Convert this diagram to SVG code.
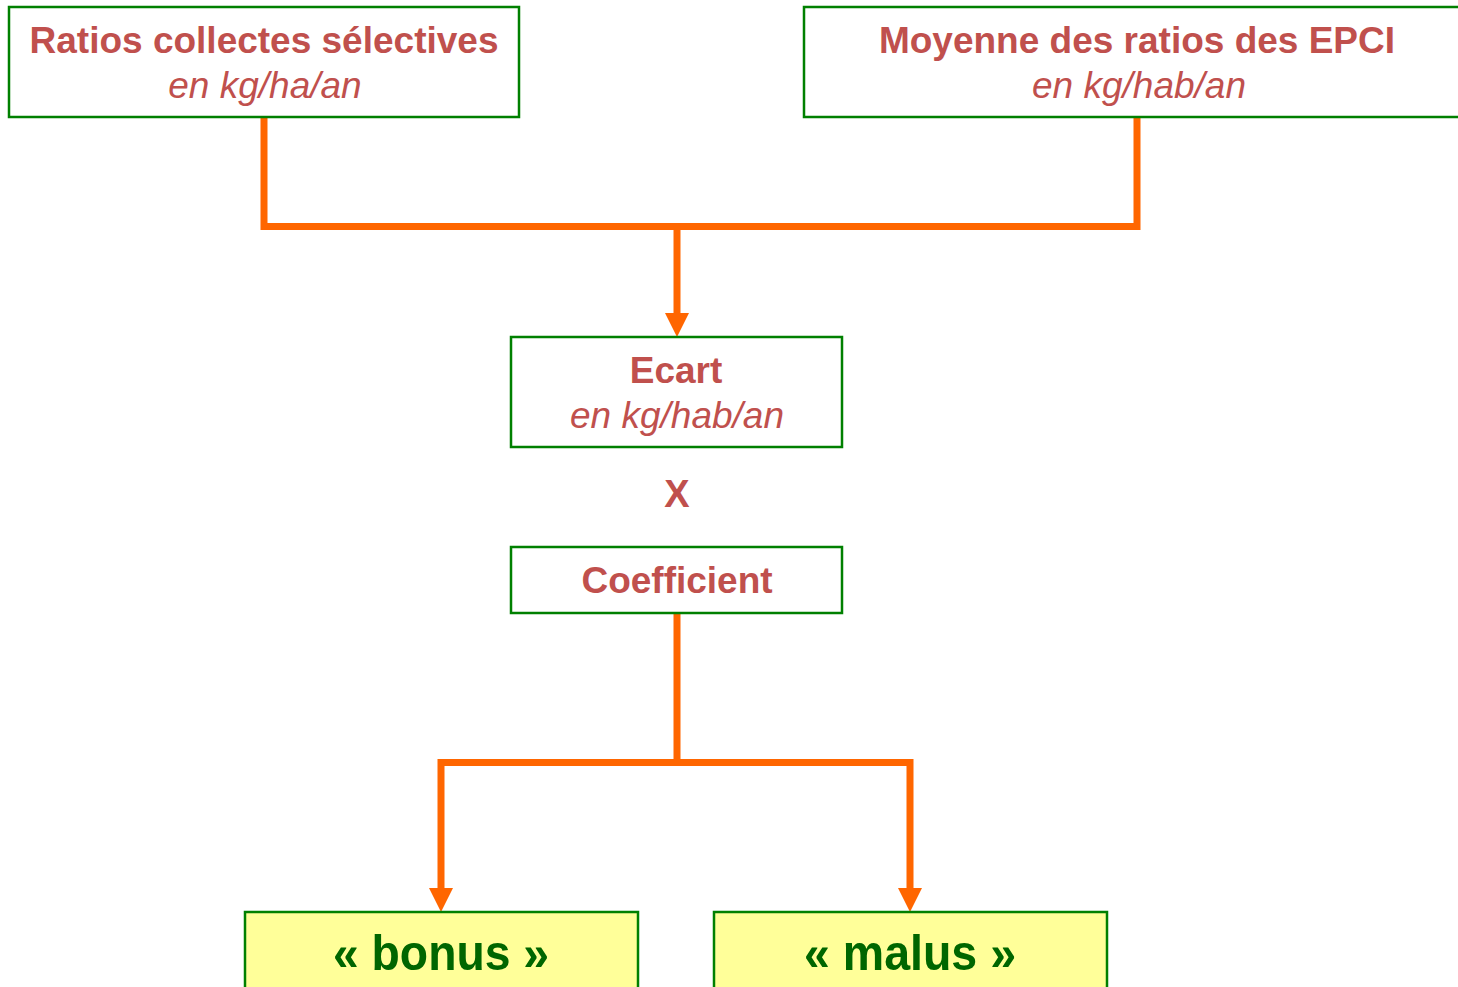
<svg xmlns="http://www.w3.org/2000/svg" width="1458" height="987" viewBox="0 0 1458 987">
<style>
.box{fill:#ffffff;stroke:#008000;stroke-width:2.5}
.ybox{fill:#ffff99;stroke:#008000;stroke-width:2.5}
.t{font-family:"Liberation Sans",Arial,sans-serif;font-weight:bold;font-size:37px;fill:#c0504d;text-anchor:middle}
.s{font-family:"Liberation Sans",Arial,sans-serif;font-style:italic;font-size:37px;fill:#c0504d;text-anchor:middle}
.g{font-family:"Liberation Sans",Arial,sans-serif;font-weight:bold;font-size:50px;fill:#006600;text-anchor:middle}
.c{fill:none;stroke:#ff6600;stroke-width:7;stroke-linejoin:miter}
.ah{fill:#ff6600}
</style>
<rect width="1458" height="987" fill="#ffffff"/>
<g id="connectors">
<polyline class="c" points="264,117 264,226.5 1137,226.5 1137,117"/>
<line class="c" x1="677" y1="226.5" x2="677" y2="316"/>
<polygon class="ah" points="665,313 689,313 677,337"/>
<polyline class="c" points="677,613 677,762.5"/>
<polyline class="c" points="441,890 441,762.5 910,762.5 910,890"/>
<polygon class="ah" points="429,888 453,888 441,912"/>
<polygon class="ah" points="898,888 922,888 910,912"/>
</g>
<g id="node-ratios">
<rect class="box" x="9" y="7" width="510" height="110"/>
<text class="t" x="264" y="53">Ratios collectes sélectives</text>
<text class="s" x="265" y="98">en kg/ha/an</text>
</g>
<g id="node-moyenne">
<rect class="box" x="804" y="7" width="670" height="110"/>
<text class="t" x="1137" y="53">Moyenne des ratios des EPCI</text>
<text class="s" x="1139" y="98">en kg/hab/an</text>
</g>
<g id="node-ecart">
<rect class="box" x="511" y="337" width="331" height="110"/>
<text class="t" x="676" y="383">Ecart</text>
<text class="s" x="677" y="428">en kg/hab/an</text>
</g>
<g id="node-x">
<text class="t" x="677" y="507" style="font-size:38px">X</text>
</g>
<g id="node-coefficient">
<rect class="box" x="511" y="547" width="331" height="66"/>
<text class="t" x="677" y="593">Coefficient</text>
</g>
<g id="node-bonus">
<rect class="ybox" x="245" y="912" width="393" height="90"/>
<text class="g" x="441" y="970" textLength="216" lengthAdjust="spacingAndGlyphs">« bonus »</text>
</g>
<g id="node-malus">
<rect class="ybox" x="714" y="912" width="393" height="90"/>
<text class="g" x="910" y="970" textLength="212" lengthAdjust="spacingAndGlyphs">« malus »</text>
</g>
</svg>
